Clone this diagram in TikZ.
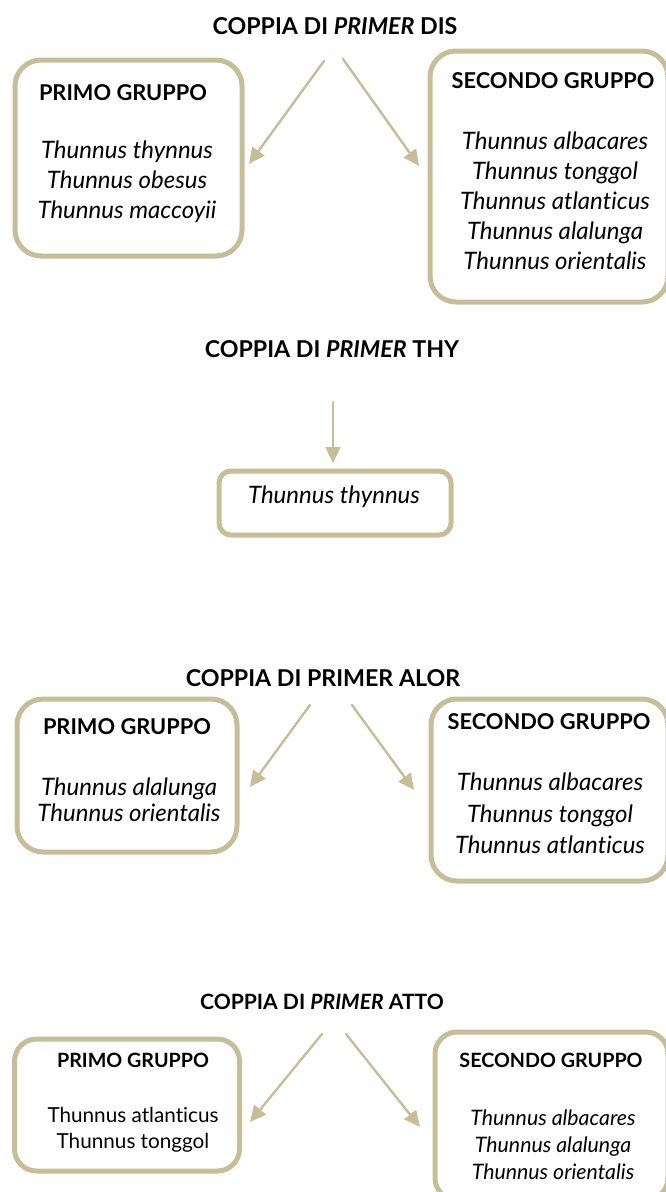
\documentclass[tikz,border=0pt]{standalone}
\usepackage{fontspec}
\setmainfont[Ligatures=NoCommon]{Lato}
\usetikzlibrary{arrows.meta}
\definecolor{khaki}{RGB}{198,190,152}

\begin{document}
\begin{tikzpicture}[x=1pt,y=-1pt,line cap=round,line join=round,
  box/.style={draw=khaki,line width=5pt,rounded corners=26pt,inner sep=0pt},
  arr/.style={draw=khaki,line width=2.4pt,-{Triangle[length=16pt,width=15pt]}},
  title/.style={font=\bfseries\fontsize{23.2}{26}\selectfont},
  head/.style={font=\bfseries\fontsize{21.8}{26}\selectfont},
  spec/.style={align=center,font=\fontsize{24}{30}\selectfont\itshape}]
  \useasboundingbox (0,0) rectangle (665,1192);

  % primer DIS
  \node[title] (disT) at (335,26) {COPPIA DI \textit{PRIMER} DIS};
  \node[box,minimum width=227pt,minimum height=196pt] (disA) at (128.5,158) {};
  \node[box,minimum width=238pt,minimum height=251pt] (disB) at (549,176.5) {};
  \node[head] (disAh) at (123,93) {PRIMO GRUPPO};
  \node[spec] (disAs) at (127,182) {Thunnus thynnus\\Thunnus obesus\\Thunnus maccoyii};
  \node[head] (disBh) at (553,81) {SECONDO GRUPPO};
  \node[spec] (disBs) at (555,201) {Thunnus albacares\\Thunnus tonggol\\Thunnus atlanticus\\Thunnus alalunga\\Thunnus orientalis};
  \coordinate (disL0) at (324,61);
  \coordinate (disL1) at (249,164);
  \coordinate (disR0) at (343,59);
  \coordinate (disR1) at (419,166);
  \draw[arr] (disL0) -- (disL1);
  \draw[arr] (disR0) -- (disR1);

  % primer THY
  \node[title] (thyT) at (332,349) {COPPIA DI \textit{PRIMER} THY};
  \node[box,rounded corners=12pt,minimum width=232pt,minimum height=64pt] (thyA) at (335,503) {};
  \node[spec] (thyAs) at (334,497) {Thunnus thynnus};
  \coordinate (thy0) at (333,402);
  \coordinate (thy1) at (333,463);
  \draw[arr] (thy0) -- (thy1);

  % primer ALOR
  \node[title] (alorT) at (323,678) {COPPIA DI PRIMER ALOR};
  \node[box,minimum width=220pt,minimum height=153pt] (alorA) at (127,775.5) {};
  \node[box,minimum width=237pt,minimum height=182pt] (alorB) at (549.5,790) {};
  \node[head] (alorAh) at (127,727) {PRIMO GRUPPO};
  \node[spec,font=\fontsize{24}{26}\selectfont\itshape] (alorAs) at (129,800) {Thunnus alalunga\\Thunnus orientalis};
  \node[head] (alorBh) at (549,722) {SECONDO GRUPPO};
  \node[spec,font=\fontsize{24}{31.5}\selectfont\itshape] (alorBs) at (550,813.5) {Thunnus albacares\\Thunnus tonggol\\Thunnus atlanticus};
  \coordinate (alorL0) at (310,705);
  \coordinate (alorL1) at (250,787);
  \coordinate (alorR0) at (352,705);
  \coordinate (alorR1) at (414,790);
  \draw[arr] (alorL0) -- (alorL1);
  \draw[arr] (alorR0) -- (alorR1);

  % primer ATTO
  \node[title,font=\bfseries\fontsize{21.1}{24}\selectfont] (attoT) at (322,1002) {COPPIA DI \textit{PRIMER} ATTO};
  \node[box,rounded corners=22pt,minimum width=225pt,minimum height=132pt] (attoA) at (127,1105) {};
  \node[box,rounded corners=22pt,minimum width=233pt,minimum height=168pt] (attoB) at (551.5,1116) {};
  \node[head,font=\bfseries\fontsize{19.7}{24}\selectfont] (attoAh) at (133,1060) {PRIMO GRUPPO};
  \node[spec,font=\fontsize{20.7}{26}\selectfont] (attoAs) at (133,1130) {Thunnus atlanticus\\Thunnus tonggol};
  \node[head,font=\bfseries\fontsize{19.7}{24}\selectfont] (attoBh) at (551,1060) {SECONDO GRUPPO};
  \node[spec,font=\fontsize{21.3}{27}\selectfont\itshape] (attoBs) at (553,1144.5) {Thunnus albacares\\Thunnus alalunga\\Thunnus orientalis};
  \coordinate (attoL0) at (322,1034);
  \coordinate (attoL1) at (250,1122);
  \coordinate (attoR0) at (346,1034);
  \coordinate (attoR1) at (420,1127);
  \draw[arr] (attoL0) -- (attoL1);
  \draw[arr] (attoR0) -- (attoR1);
\end{tikzpicture}
\end{document}
